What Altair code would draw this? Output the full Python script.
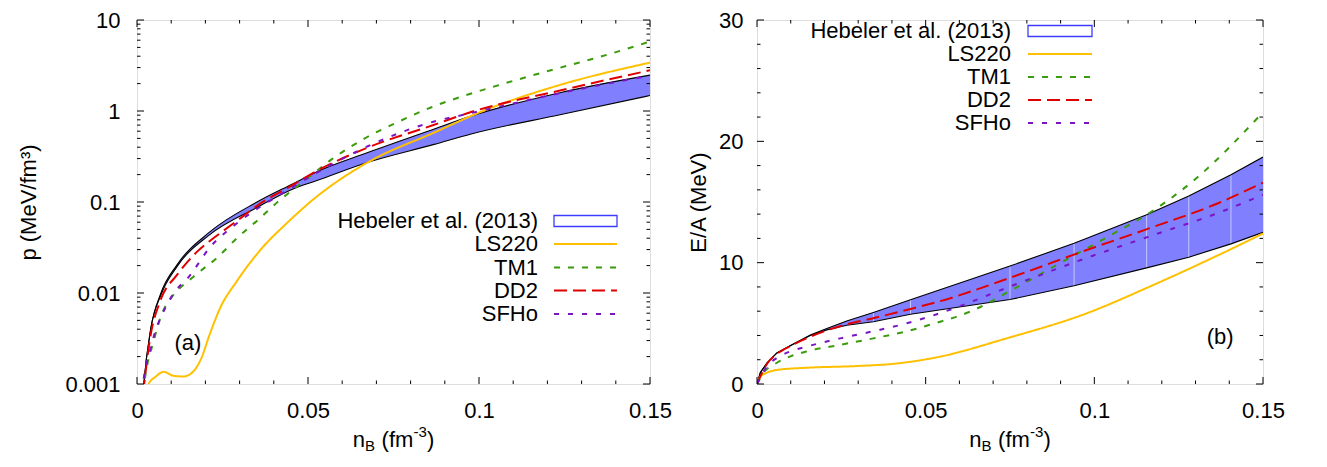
import altair as alt
import pandas as pd

FONT = "Liberation Sans"
FS = 22

# ---------------- Panel (a): pressure vs density ----------------
heb_a_n = [0.0018, 0.002, 0.004, 0.007, 0.0117, 0.021, 0.0351, 0.0458, 0.0526, 0.0675, 0.0869, 0.0977, 0.124, 0.15]
heb_a_hi = [0.0008, 0.001, 0.0040, 0.0100, 0.0204, 0.046, 0.100, 0.160, 0.215, 0.35, 0.635, 0.88, 1.60, 2.48]
heb_a_lo = [0.0008, 0.001, 0.0040, 0.0095, 0.0195, 0.043, 0.087, 0.140, 0.172, 0.273, 0.43, 0.56, 0.914, 1.48]

ls220_a_n = [0.0025, 0.0034, 0.0054, 0.0078, 0.0107, 0.0136, 0.0166, 0.019, 0.021, 0.0244, 0.0292, 0.036, 0.0439, 0.0526, 0.0577, 0.0675, 0.0869, 0.1006, 0.124, 0.15]
ls220_a_p = [0.0007, 0.001, 0.0012, 0.00136, 0.00123, 0.00121, 0.00139, 0.002, 0.0033, 0.00695, 0.0135, 0.0295, 0.059, 0.115, 0.16, 0.273, 0.58, 0.98, 1.95, 3.4]

tm1_a_n = [0.0018, 0.0021, 0.0049, 0.0075, 0.0097, 0.0166, 0.0234, 0.0292, 0.0356, 0.0419, 0.048, 0.0567, 0.0666, 0.0764, 0.0861, 0.0959, 0.1057, 0.1154, 0.1252, 0.135, 0.15]
tm1_a_p = [0.0008, 0.001, 0.003, 0.0062, 0.0085, 0.0152, 0.0244, 0.040, 0.0646, 0.106, 0.16, 0.29, 0.50, 0.76, 1.10, 1.48, 1.92, 2.45, 3.1, 3.9, 5.8]

dd2_a_n = [0.0018, 0.0021, 0.0039, 0.0068, 0.0117, 0.0175, 0.0234, 0.0292, 0.037, 0.0439, 0.0526, 0.0675, 0.0869, 0.0977, 0.124, 0.15]
dd2_a_p = [0.0008, 0.001, 0.0033, 0.0082, 0.0158, 0.0283, 0.0428, 0.062, 0.1016, 0.1416, 0.22, 0.397, 0.706, 0.975, 1.69, 2.8]

sfho_a_n = [0.0016, 0.0018, 0.0039, 0.0097, 0.0156, 0.0214, 0.0283, 0.0341, 0.041, 0.0526, 0.0675, 0.0869, 0.0967, 0.124, 0.15]
sfho_a_p = [0.0008, 0.001, 0.0024, 0.0086, 0.0158, 0.032, 0.0547, 0.0794, 0.115, 0.21, 0.41, 0.767, 0.93, 1.58, 2.45]

# ---------------- Panel (b): energy per baryon vs density ----------------
heb_b_n = [0.0, 0.001, 0.003, 0.0059, 0.0104, 0.0158, 0.0207, 0.0266, 0.0345, 0.0455, 0.075, 0.094, 0.1155, 0.128, 0.1405, 0.15]
heb_b_hi = [0.0, 0.94, 1.75, 2.56, 3.23, 4.03, 4.57, 5.19, 5.9, 6.95, 9.72, 11.6, 13.95, 15.5, 17.25, 18.7]
heb_b_lo = [0.0, 0.94, 1.75, 2.56, 3.23, 4.0, 4.46, 4.84, 5.13, 5.75, 6.96, 8.1, 9.57, 10.45, 11.55, 12.5]
heb_b_nodes = [0.0345, 0.0455, 0.075, 0.094, 0.1155, 0.128, 0.1405]

ls220_b_n = [0.0, 0.001, 0.003, 0.0059, 0.0148, 0.0296, 0.0414, 0.0533, 0.0741, 0.0973, 0.117, 0.1347, 0.15]
ls220_b_e = [0.0, 0.6, 0.94, 1.16, 1.34, 1.48, 1.69, 2.2, 3.77, 5.78, 8.1, 10.35, 12.4]

tm1_b_n = [0.0, 0.002, 0.0059, 0.0099, 0.0148, 0.0247, 0.0345, 0.0444, 0.0533, 0.0627, 0.0765, 0.092, 0.107, 0.1155, 0.13, 0.15]
tm1_b_e = [0.0, 0.94, 1.75, 2.28, 2.69, 3.23, 3.76, 4.35, 5.05, 5.91, 7.9, 10.3, 12.6, 13.95, 16.9, 22.4]

dd2_b_n = [0.0, 0.003, 0.0059, 0.0104, 0.0158, 0.0266, 0.035, 0.0464, 0.0533, 0.0775, 0.0973, 0.117, 0.1367, 0.15]
dd2_b_e = [0.0, 1.67, 2.47, 3.2, 3.9, 4.92, 5.46, 6.25, 6.75, 9.0, 11.0, 12.9, 14.9, 16.6]

sfho_b_n = [0.0, 0.003, 0.0059, 0.0099, 0.0148, 0.0247, 0.0345, 0.0444, 0.0533, 0.0775, 0.0973, 0.117, 0.1367, 0.15]
sfho_b_e = [0.0, 1.48, 2.15, 2.69, 3.09, 3.76, 4.35, 5.0, 5.75, 8.3, 10.35, 12.23, 14.1, 15.6]

# ---------------- ticks and labels ----------------
x_major = [0.0, 0.05, 0.1, 0.15]
x_minor = [0.01, 0.02, 0.03, 0.04, 0.06, 0.07, 0.08, 0.09, 0.11, 0.12, 0.13, 0.14]
ya_major = [0.001, 0.01, 0.1, 1, 10]
ya_minor = [k * 10.0 ** e for e in (-3, -2, -1, 0) for k in range(2, 10)]
yb_major = [0, 10, 20, 30]
yb_minor = [2, 4, 6, 8, 12, 14, 16, 18, 22, 24, 26, 28]

legend_labels = ["Hebeler et al. (2013)", "LS220", "TM1", "DD2", "SFHo"]
series_colors = {"LS220": "#ffc000", "TM1": "#3a9c0c", "DD2": "#e00000", "SFHo": "#7a14c4"}
series_dash = {"LS220": [1, 0], "TM1": [6, 8], "DD2": [13, 6], "SFHo": [5, 9]}
band_fill = "#8080ff"
band_edge = "#3c3cff"

WA, WB, H = 513, 506, 364

xs = alt.Scale(domain=[0, 0.15], nice=False, zero=False)
ya_s = alt.Scale(type="log", domain=[0.001, 10], nice=False)
yb_s = alt.Scale(domain=[0, 30], nice=False, zero=False)

x_axis = alt.Axis(values=x_major, format=".2~f", title=None, ticks=False, tickSize=0,
                  domain=False, grid=False, labelFlush=False, labelPadding=16,
                  labelFontSize=FS, labelFont=FONT, labelColor="black", labelOverlap=False)


def y_axis(vals, title, fmt, lpad, tpad):
    return alt.Axis(values=vals, format=fmt, title=title, ticks=False, tickSize=0,
                    domain=False, grid=False, labelPadding=lpad, labelFontSize=FS,
                    labelFont=FONT, labelColor="black", titleFont=FONT, titleFontSize=FS,
                    titleFontWeight="normal", titleColor="black", titlePadding=tpad,
                    labelOverlap=False)


def panel(W, ys, yax, band, band_interp, band_nodes, series, label, label_xy, leg):
    X = lambda f: alt.X(f, type="quantitative", scale=xs, axis=x_axis)
    Y = lambda f: alt.Y(f, type="quantitative", scale=ys, axis=yax)
    layers = []
    bn, blo, bhi = band
    bdf = pd.DataFrame({"n": bn, "lo": blo, "hi": bhi})
    layers.append(alt.Chart(bdf).mark_area(color=band_fill, clip=True, opacity=1,
                                           interpolate=band_interp).encode(
        x=X("n"), y=Y("lo"), y2="hi"))
    if band_nodes:
        ndf = bdf[bdf["n"].isin(band_nodes)]
        layers.append(alt.Chart(ndf).mark_rule(color="white", opacity=0.55, strokeWidth=1).encode(
            x=X("n"), y=Y("lo"), y2="hi"))
    for col in ("lo", "hi"):
        layers.append(alt.Chart(bdf).mark_line(color="black", strokeWidth=1.1, clip=True,
                                               interpolate=band_interp).encode(
            x=X("n"), y=Y(col)))
    for name, (sn, sv) in series.items():
        sdf = pd.DataFrame({"n": sn, "v": sv})
        layers.append(alt.Chart(sdf).mark_line(
            color=series_colors[name], strokeWidth=2, clip=True, interpolate="monotone",
            strokeDash=series_dash[name]).encode(x=X("n"), y=Y("v")))
    # inward ticks, mirrored on all four sides
    yvals_major, yvals_minor = leg["yticks"]
    for vals, L in ((x_major, 7), (x_minor, 3.5)):
        tdf = pd.DataFrame({"v": vals})
        layers.append(alt.Chart(tdf).mark_rule(color="black", strokeWidth=1).encode(
            x=X("v"), y=alt.value(H), y2=alt.value(H - L)))
        layers.append(alt.Chart(tdf).mark_rule(color="black", strokeWidth=1).encode(
            x=X("v"), y=alt.value(0), y2=alt.value(L)))
    for vals, L in ((yvals_major, 7), (yvals_minor, 3.5)):
        tdf = pd.DataFrame({"v": vals})
        layers.append(alt.Chart(tdf).mark_rule(color="black", strokeWidth=1).encode(
            y=Y("v"), x=alt.value(0), x2=alt.value(L)))
        layers.append(alt.Chart(tdf).mark_rule(color="black", strokeWidth=1).encode(
            y=Y("v"), x=alt.value(W), x2=alt.value(W - L)))
    # panel label
    ldf = pd.DataFrame({"n": [label_xy[0]], "v": [label_xy[1]], "t": [label]})
    layers.append(alt.Chart(ldf).mark_text(fontSize=FS, font=FONT, color="black",
                                           align="center", baseline="middle").encode(
        x=X("n"), y=Y("v"), text="t:N"))
    # key (gnuplot style: label, then sample)
    tx, sx0, sx1, rows = leg["tx"], leg["sx0"], leg["sx1"], leg["rows"]
    for i, lab in enumerate(legend_labels):
        ry = rows[i]
        tdf = pd.DataFrame({"t": [lab]})
        layers.append(alt.Chart(tdf).mark_text(fontSize=FS, font=FONT, color="black",
                                               align="right", baseline="middle").encode(
            x=alt.value(tx), y=alt.value(ry), text="t:N"))
        if i == 0:
            layers.append(alt.Chart(tdf).mark_rect(fill="white", stroke=band_edge,
                                                   strokeWidth=1.3).encode(
                x=alt.value(sx0), x2=alt.value(sx1), y=alt.value(ry - 5.5), y2=alt.value(ry + 5.5)))
        else:
            layers.append(alt.Chart(tdf).mark_rule(color=series_colors[lab], strokeWidth=2,
                                                   strokeDash=series_dash[lab]).encode(
                x=alt.value(sx0), x2=alt.value(sx1), y=alt.value(ry)))
    # x-axis title n_B (fm^-3) built from pieces for the sub/superscripts
    pieces = [("n", FS, 0, 12.4), ("B", 15, 6, 16.5), ("(fm", FS, 0, 32.0),
              ("-3", 15, -8, 13.4), (")", FS, 0, 7.4)]
    total = sum(p[3] for p in pieces)
    cx = W / 2 - total / 2
    for txt, fs, dy, w in pieces:
        tdf = pd.DataFrame({"t": [txt]})
        layers.append(alt.Chart(tdf).mark_text(fontSize=fs, font=FONT, color="black",
                                               align="left", baseline="middle", dy=dy).encode(
            x=alt.value(cx), y=alt.value(H + 56), text="t:N"))
        cx += w
    return alt.layer(*layers).properties(width=W, height=H)


left = panel(
    WA, ya_s, y_axis(ya_major, "p (MeV/fm³)", ".3~f", 17, 24),
    (heb_a_n, heb_a_lo, heb_a_hi), "monotone", None,
    {"LS220": (ls220_a_n, ls220_a_p), "TM1": (tm1_a_n, tm1_a_p),
     "DD2": (dd2_a_n, dd2_a_p), "SFHo": (sfho_a_n, sfho_a_p)},
    "(a)", (0.0149, 0.00283),
    {"tx": 401, "sx0": 417, "sx1": 480, "rows": [201, 224, 247.5, 270.5, 294],
     "yticks": (ya_major, ya_minor)})

right = panel(
    WB, yb_s, y_axis(yb_major, "E/A (MeV)", "d", 14, 8),
    (heb_b_n, heb_b_lo, heb_b_hi), "linear", heb_b_nodes,
    {"LS220": (ls220_b_n, ls220_b_e), "TM1": (tm1_b_n, tm1_b_e),
     "DD2": (dd2_b_n, dd2_b_e), "SFHo": (sfho_b_n, sfho_b_e)},
    "(b)", (0.1373, 3.87),
    {"tx": 254, "sx0": 271, "sx1": 335, "rows": [11, 34, 57, 80, 103],
     "yticks": (yb_major, yb_minor)})

chart = alt.hconcat(left, right, spacing=15).properties(
    padding={"left": 9, "top": 0, "right": 0, "bottom": 0}
).configure_view(stroke="black", strokeWidth=1.2).configure(background="white")

chart.save("out.html", embed_options={"renderer": "svg", "actions": False})
